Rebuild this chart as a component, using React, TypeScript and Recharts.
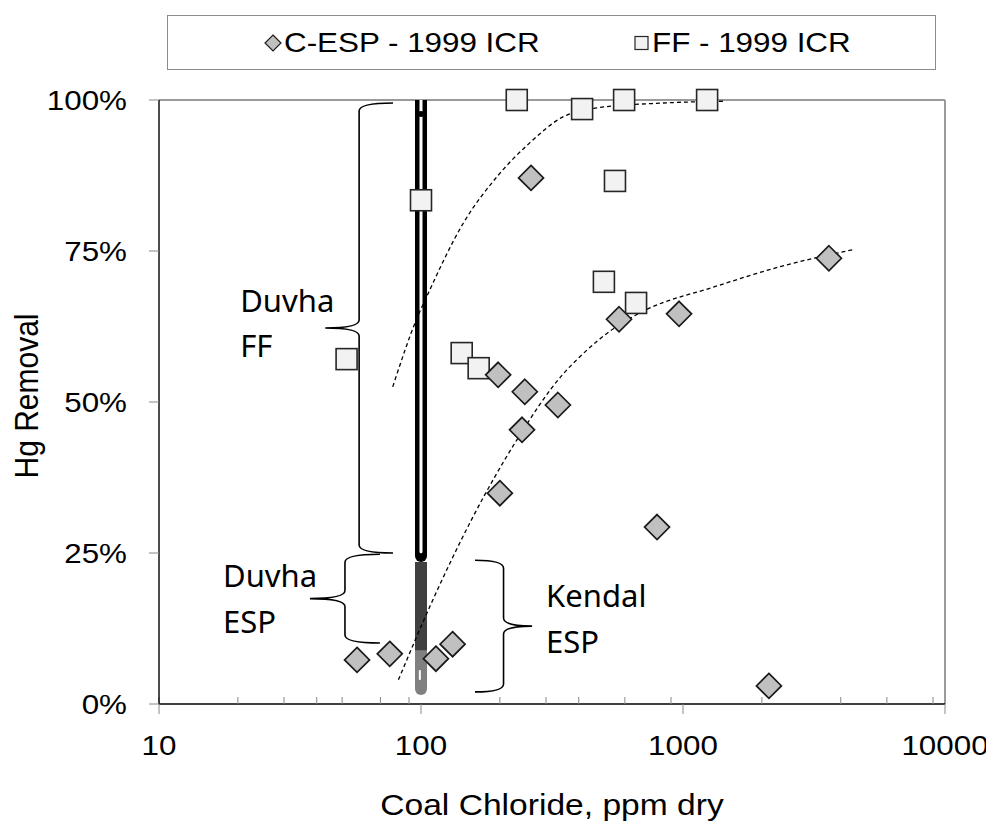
import React from "react";
import {
  ComposedChart,
  Scatter,
  Line,
  XAxis,
  YAxis,
  ReferenceLine,
  ReferenceArea,
  ReferenceDot,
  Legend,
} from "recharts";

// 1999 ICR points: coal chloride (ppm dry) vs Hg removal (%)
const ESP_CHLORIDE = [57, 76, 114, 132, 197, 249, 243, 200, 333, 263, 570, 966, 796, 2128, 3605];
const ESP_REMOVAL = [7.3, 8.3, 7.5, 9.9, 54.5, 51.7, 45.4, 34.9, 49.5, 87.1, 63.7, 64.6, 29.3, 3.0, 73.8];
const FF_CHLORIDE = [232, 412, 596, 1236, 550, 100, 499, 662, 52, 143, 166];
const FF_REMOVAL = [100, 98.5, 100, 100, 86.6, 83.4, 69.9, 66.4, 57.1, 58.1, 55.6];

// dashed trend curves
const FF_TREND_X = [78, 97, 105, 145, 195, 260, 348, 470, 839, 1445];
const FF_TREND_Y = [52.5, 64.1, 67.4, 79.6, 87.3, 92.9, 97.2, 98.7, 99.5, 99.8];
const ESP_TREND_X = [82, 108, 158, 232, 348, 404, 558, 726, 1303, 2345, 4430];
const ESP_TREND_Y = [4.0, 16.1, 31.0, 43.7, 54.6, 57.5, 62.5, 65.3, 69.0, 72.4, 75.2];

const X_TICKS = [10, 100, 1000, 10000];
const X_MINOR = [
  20, 30, 40, 50, 60, 70, 80, 90,
  200, 300, 400, 500, 600, 700, 800, 900,
  2000, 3000, 4000, 5000, 6000, 7000, 8000, 9000,
];
const Y_TICKS = [0, 25, 50, 75, 100];

// Duvha range bar at 100 ppm
const DUVHA_CHLORIDE = 100;
const DUVHA_FF_RANGE = [24.5, 100];
const DUVHA_FF_INNER = [25.2, 100];
const DUVHA_FF_DOT = 97.7;
const DUVHA_ESP_HIGH = [8.9, 23.5];
const DUVHA_ESP_LOW = [2.5, 8.9];
const DUVHA_ESP_MARK = [4.0, 5.6];

// braces
const BRACE_NAMES = [["Duvha", "FF"], ["Duvha", "ESP"], ["Kendal", "ESP"]];
const BRACE_TIP = [43.1, 37.7, 265.5];
const BRACE_END = [78.2, 69.7, 160.7];
const BRACE_TOP = [99.5, 24.8, 23.8];
const BRACE_BOTTOM = [25.0, 10.1, 2.0];
const BRACE_TEXT_DX = [-85, -87, 14];
const BRACE_TEXT_DY = [[-16, 29], [-11.5, 34.5], [-19, 27]];

const SERIES_NAMES = ["C-ESP - 1999 ICR", "FF - 1999 ICR"];

const espData = ESP_CHLORIDE.map((x, i) => ({ x, y: ESP_REMOVAL[i] }));
const ffData = FF_CHLORIDE.map((x, i) => ({ x, y: FF_REMOVAL[i] }));
const ffTrend = FF_TREND_X.map((x, i) => ({ x, y: FF_TREND_Y[i] }));
const espTrend = ESP_TREND_X.map((x, i) => ({ x, y: ESP_TREND_Y[i] }));

const ARIAL = "'Liberation Sans', Arial, sans-serif";
const STRETCH = 1.12; // the source picture is a bit wide

function XTick(p: any) {
  const { x, y, payload } = p;
  return (
    <text transform={`translate(${x},${y}) scale(${STRETCH},1)`} textAnchor="middle" dy="0.71em" fontSize={28} fontFamily={ARIAL} fill="#000">
      {payload.value}
    </text>
  );
}

function YTick(p: any) {
  const { x, y, payload } = p;
  return (
    <text transform={`translate(${x},${y}) scale(${STRETCH},1)`} textAnchor="end" dy="0.355em" fontSize={28} fontFamily={ARIAL} fill="#000">
      {`${payload.value}%`}
    </text>
  );
}

function XTitle(p: any) {
  const vb = p.viewBox || {};
  const cx = vb.x + vb.width / 2;
  const by = vb.y + vb.height - 10;
  return (
    <text transform={`translate(${cx},${by}) scale(${STRETCH},1)`} textAnchor="middle" fontSize={30} fontFamily={ARIAL} fill="#000">
      Coal Chloride, ppm dry
    </text>
  );
}

function YTitle(p: any) {
  const vb = p.viewBox || {};
  const cx = vb.x + 18;
  const cy = vb.y + vb.height / 2 - 6;
  return (
    <text
      transform={`translate(${cx},${cy}) scale(${STRETCH},1) rotate(-90)`}
      textAnchor="middle"
      dy="0.355em"
      fontSize={30}
      fontFamily={ARIAL}
      fill="#000"
    >
      Hg Removal
    </text>
  );
}

function Diamond(p: any) {
  const { cx, cy } = p;
  const r = 12.5;
  return (
    <polygon
      points={`${cx},${cy - r} ${cx + r},${cy} ${cx},${cy + r} ${cx - r},${cy}`}
      fill="#c0c0c0"
      stroke="#1a1a1a"
      strokeWidth={1.7}
    />
  );
}

function Square(p: any) {
  const { cx, cy } = p;
  const s = 21;
  return <rect x={cx - s / 2} y={cy - s / 2} width={s} height={s} fill="#f2f2f2" stroke="#262626" strokeWidth={1.6} />;
}

function makeBrace(i: number) {
  const pointLeft = BRACE_TIP[i] < BRACE_END[i];
  return (p: any) => {
    const { x, y, width: w, height: h } = p;
    const mid = y + h / 2;
    const r = Math.min(8, h / 4);
    const tipX = pointLeft ? x : x + w;
    const endX = pointLeft ? x + w : x;
    const vx = x + w / 2;
    const d = `M${endX},${y} Q${vx},${y} ${vx},${y + r} L${vx},${mid - r} Q${vx},${mid} ${tipX},${mid} Q${vx},${mid} ${vx},${mid + r} L${vx},${y + h - r} Q${vx},${y + h} ${endX},${y + h}`;
    const tx = tipX + BRACE_TEXT_DX[i];
    return (
      <g>
        <path d={d} fill="none" stroke="#000" strokeWidth={1.6} />
        {BRACE_NAMES[i].map((t, k) => (
          <text key={k} x={tx} y={mid + BRACE_TEXT_DY[i][k]} fontSize={31} fontFamily="'Noto Sans', sans-serif" fill="#000">
            {t}
          </text>
        ))}
      </g>
    );
  };
}

function LegendBox() {
  const item = { position: "absolute" as const, top: 0, height: 53, display: "flex", alignItems: "center" };
  const label = { display: "inline-block", transform: `scaleX(${STRETCH})`, transformOrigin: "left center" };
  return (
    <div
      style={{
        position: "relative",
        width: 769,
        height: 55,
        boxSizing: "border-box",
        border: "1px solid #8c8c8c",
        background: "#fff",
        fontFamily: ARIAL,
        fontSize: 28,
        color: "#000",
        whiteSpace: "nowrap",
      }}
    >
      <span style={{ ...item, left: 96 }}>
        <svg width={18} height={20} style={{ marginRight: 2 }}>
          <polygon points="9,2 17,10 9,18 1,10" fill="#c0c0c0" stroke="#1e1e1e" strokeWidth={1.2} />
        </svg>
        <span style={label}>{SERIES_NAMES[0]}</span>
      </span>
      <span style={{ ...item, left: 466 }}>
        <svg width={16} height={16} style={{ marginRight: 2 }}>
          <rect x={1} y={1.5} width={13} height={13} fill="#f2f2f2" stroke="#262626" strokeWidth={1.2} />
        </svg>
        <span style={label}>{SERIES_NAMES[1]}</span>
      </span>
    </div>
  );
}

export default function App() {
  return (
    <ComposedChart width={986} height={817} margin={{ top: 92, right: 49, bottom: 0, left: 0 }}>
      <XAxis
        dataKey="x"
        type="number"
        scale="log"
        domain={[10, 10000]}
        allowDataOverflow
        ticks={X_TICKS}
        tick={<XTick />}
        tickSize={10}
        tickMargin={21}
        tickLine={{ stroke: "#888" }}
        axisLine={{ stroke: "#000", strokeWidth: 1.4 }}
        height={121}
        label={{ value: "Coal Chloride, ppm dry", position: "insideBottom", content: (p: any) => <XTitle {...p} /> }}
      />
      <XAxis
        xAxisId="minor"
        dataKey="x"
        type="number"
        scale="log"
        domain={[10, 10000]}
        allowDataOverflow
        ticks={[...X_TICKS, ...X_MINOR]}
        mirror
        tickSize={7}
        axisLine={false}
        tickLine={{ stroke: "#888" }}
        tick={() => <g />}
      />
      <YAxis
        dataKey="y"
        type="number"
        domain={[0, 100]}
        ticks={Y_TICKS}
        tick={<YTick />}
        tickSize={10}
        tickMargin={22}
        tickLine={{ stroke: "#888" }}
        axisLine={{ stroke: "#000", strokeWidth: 1.4 }}
        width={151}
        label={{ value: "Hg Removal", position: "insideLeft", content: (p: any) => <YTitle {...p} /> }}
      />
      <ReferenceLine y={100} stroke="#9a9a9a" strokeWidth={2} />
      <ReferenceLine x={10000} stroke="#9a9a9a" strokeWidth={2} />

      {/* Duvha bar at 100 ppm */}
      <ReferenceLine
        segment={[{ x: DUVHA_CHLORIDE, y: DUVHA_ESP_LOW[0] }, { x: DUVHA_CHLORIDE, y: DUVHA_ESP_LOW[1] }]}
        stroke="#808080"
        strokeWidth={12}
        strokeLinecap="round"
        ifOverflow="hidden"
      />
      <ReferenceLine
        segment={[{ x: DUVHA_CHLORIDE, y: DUVHA_ESP_HIGH[0] }, { x: DUVHA_CHLORIDE, y: DUVHA_ESP_HIGH[1] }]}
        stroke="#404040"
        strokeWidth={12}
        ifOverflow="hidden"
      />
      <ReferenceLine
        segment={[{ x: 99, y: DUVHA_ESP_MARK[0] }, { x: 99, y: DUVHA_ESP_MARK[1] }]}
        stroke="#fff"
        strokeWidth={2}
        ifOverflow="hidden"
      />
      <ReferenceLine
        segment={[{ x: DUVHA_CHLORIDE, y: DUVHA_FF_RANGE[0] }, { x: DUVHA_CHLORIDE, y: DUVHA_FF_RANGE[1] }]}
        stroke="#000"
        strokeWidth={12}
        strokeLinecap="round"
        ifOverflow="hidden"
      />
      <ReferenceLine
        segment={[{ x: DUVHA_CHLORIDE, y: DUVHA_FF_INNER[0] }, { x: DUVHA_CHLORIDE, y: DUVHA_FF_INNER[1] }]}
        stroke="#fff"
        strokeWidth={3}
        strokeLinecap="round"
        ifOverflow="hidden"
      />
      <ReferenceDot x={DUVHA_CHLORIDE} y={DUVHA_FF_DOT} r={3} fill="#000" stroke="none" />

      {BRACE_NAMES.map((_, i) => (
        <ReferenceArea
          key={i}
          x1={Math.min(BRACE_TIP[i], BRACE_END[i])}
          x2={Math.max(BRACE_TIP[i], BRACE_END[i])}
          y1={BRACE_BOTTOM[i]}
          y2={BRACE_TOP[i]}
          shape={makeBrace(i)}
        />
      ))}

      <Scatter name={SERIES_NAMES[1]} data={ffData} shape={Square} isAnimationActive={false} />
      <Scatter name={SERIES_NAMES[0]} data={espData} shape={Diamond} isAnimationActive={false} />

      <Line data={ffTrend} dataKey="y" type="monotone" stroke="#000" strokeWidth={1.3} strokeDasharray="4 3" dot={false} activeDot={false} isAnimationActive={false} legendType="none" />
      <Line data={espTrend} dataKey="y" type="monotone" stroke="#000" strokeWidth={1.3} strokeDasharray="4 3" dot={false} activeDot={false} isAnimationActive={false} legendType="none" />

      <Legend
        layout="horizontal"
        verticalAlign="middle"
        align="center"
        wrapperStyle={{ top: 7, left: 159, width: 769, height: 55 }}
        content={() => <LegendBox />}
      />
    </ComposedChart>
  );
}
